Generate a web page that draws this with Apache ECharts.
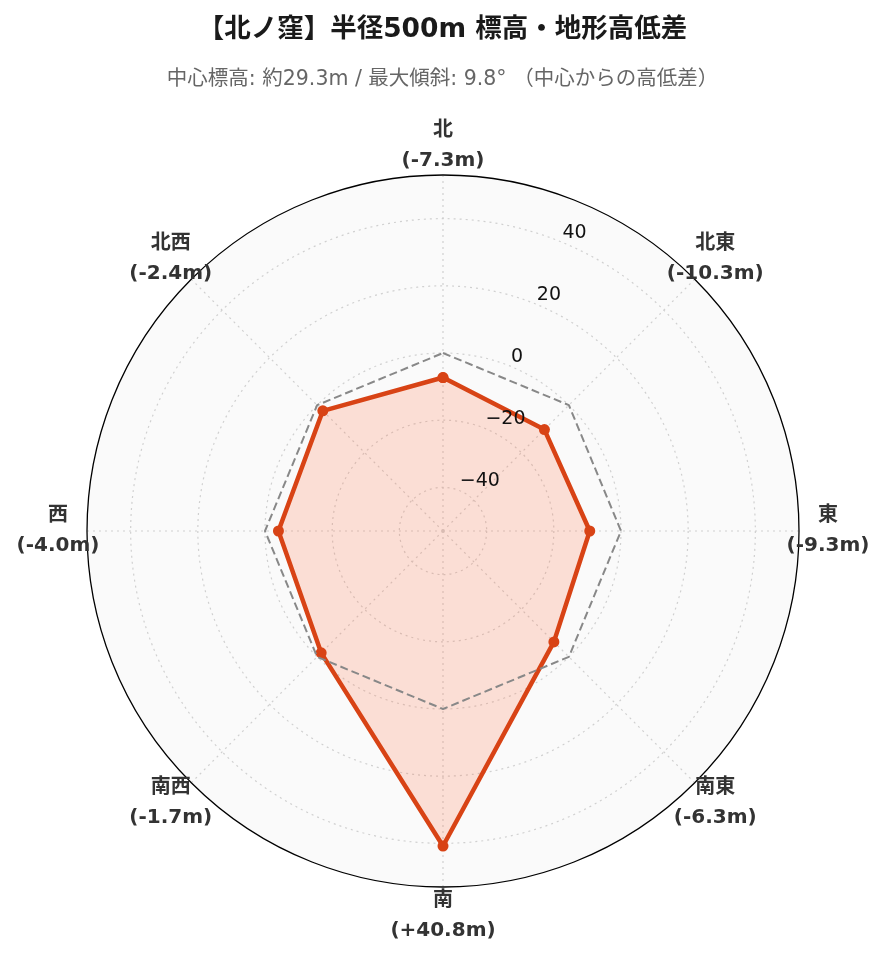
<!DOCTYPE html>
<html>
<head>
<meta charset="utf-8">
<script src="https://cdn.jsdelivr.net/npm/echarts@6/dist/echarts.min.js"></script>
<style>
html,body{margin:0;padding:0;background:#fff;}
#c{width:885px;height:962px;}
</style>
</head>
<body>
<div id="c"></div>
<script>
const directions = ['北', '北東', '東', '南東', '南', '南西', '西', '北西'];
const bearings = [0, 45, 90, 135, 180, 225, 270, 315];
const heightDiff = [-7.3, -10.3, -9.3, -6.3, 40.8, -1.7, -4.0, -2.4];
const zeroRef = [0, 0, 0, 0, 0, 0, 0, 0];
const radialTicks = [-40, -20, 0, 20, 40];
const radialMin = -53;
const radialMax = 53;
const titleText = '【北ノ窪】半径500m 標高・地形高低差';
const subText = '中心標高: 約29.3m / 最大傾斜: 9.8° （中心からの高低差）';

function closed(vals) {
  const d = vals.map((v, i) => [v, bearings[i]]);
  d.push([vals[0], bearings[0] + 360]);
  return d;
}
function fmtDiff(v) {
  return '(' + (v > 0 ? '+' : '') + v.toFixed(1) + 'm)';
}
const labelPoints = directions.map((d, i) => ({
  value: [radialMax, bearings[i]],
  name: d,
  diff: heightDiff[i]
}));

const FONT = "'DejaVu Sans', 'Noto Sans CJK JP', sans-serif";
const chart = echarts.init(document.getElementById('c'), null, {renderer: 'canvas'});
const CX = 443, CY = 531, R = 356;
chart.setOption({
  animation: false,
  backgroundColor: '#ffffff',
  title: [{
    text: titleText,
    left: 'center', top: 12,
    textStyle: {fontFamily: FONT, fontWeight: 'bold', fontSize: 26.5, color: '#1a1a1a'}
  }, {
    text: subText,
    left: 'center', top: 64,
    textStyle: {fontFamily: FONT, fontWeight: 'normal', fontSize: 20.5, color: '#666'}
  }],
  polar: [
    {center: [CX, CY], radius: R},
    {center: [CX, CY], radius: R},
    {center: [CX, CY], radius: 385}
  ],
  angleAxis: [{
    polarIndex: 0,
    type: 'value',
    min: 0, max: 360, interval: 45,
    startAngle: 90,
    clockwise: true,
    z: 2,
    axisLine: {show: true, lineStyle: {color: '#000', width: 1.3}},
    axisTick: {show: false},
    axisLabel: {show: false},
    splitLine: {show: true, lineStyle: {color: '#d0d0d0', type: [2, 4], width: 1.2}},
    splitArea: {show: false}
  }, {
    polarIndex: 1,
    type: 'value',
    min: 0, max: 360,
    startAngle: 67.5,
    z: 0,
    axisLine: {show: false},
    axisTick: {show: false},
    axisLabel: {show: false},
    splitLine: {show: false},
    splitArea: {show: true, areaStyle: {color: ['#fafafa']}}
  }, {
    polarIndex: 2,
    type: 'value',
    min: 0, max: 360,
    startAngle: 90,
    clockwise: true,
    show: false
  }],
  radiusAxis: [{
    polarIndex: 0,
    type: 'value',
    min: radialMin, max: radialMax,
    z: 2,
    axisLine: {show: false},
    axisTick: {show: false, customValues: radialTicks},
    axisLabel: {show: false, customValues: radialTicks},
    splitLine: {show: true, lineStyle: {color: '#d0d0d0', type: [2, 4], width: 1.2}}
  }, {
    polarIndex: 1,
    type: 'value',
    min: radialMin, max: radialMax,
    z: 10,
    axisLine: {show: false},
    axisTick: {show: false, customValues: radialTicks},
    splitLine: {show: false},
    axisLabel: {
      show: true,
      customValues: radialTicks,
      margin: 0,
      align: 'left',
      verticalAlign: 'bottom',
      fontFamily: 'DejaVu Sans',
      fontSize: 19,
      color: '#111',
      formatter: v => String(v).replace('-', '\u2212')
    }
  }, {
    polarIndex: 2,
    type: 'value',
    min: radialMin, max: radialMax,
    show: false
  }],
  series: [{
    type: 'line',
    coordinateSystem: 'polar',
    polarIndex: 0,
    data: closed(heightDiff),
    symbol: 'circle',
    symbolSize: 11,
    itemStyle: {color: '#d84315'},
    lineStyle: {color: '#d84315', width: 4.5},
    areaStyle: {color: 'rgba(255,112,67,0.2)', opacity: 1, origin: 'start'},
    z: 4
  }, {
    type: 'line',
    coordinateSystem: 'polar',
    polarIndex: 0,
    data: closed(zeroRef),
    symbol: 'none',
    lineStyle: {color: '#888888', width: 2, type: [8, 4]},
    z: 5
  }, {
    type: 'scatter',
    coordinateSystem: 'polar',
    polarIndex: 2,
    data: labelPoints,
    symbol: 'circle',
    symbolSize: 1,
    itemStyle: {color: 'rgba(255,255,255,0)', opacity: 1},
    silent: true,
    z: 6,
    label: {
      show: true,
      position: 'inside',
      align: 'center',
      verticalAlign: 'middle',
      fontFamily: FONT,
      fontWeight: 'bold',
      fontSize: 20,
      lineHeight: 30,
      color: '#333',
      opacity: 1,
      textBorderWidth: 0,
      formatter: p => p.data.name + '\n' + fmtDiff(p.data.diff)
    }
  }]
});
</script>
</body>
</html>
